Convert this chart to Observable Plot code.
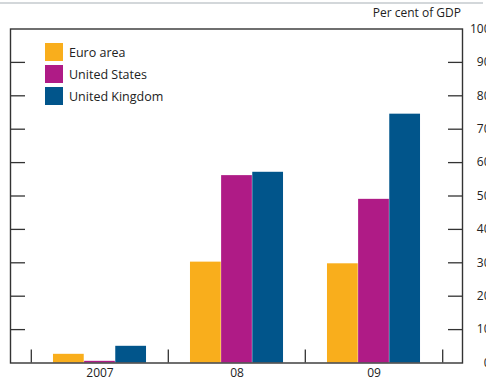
<!DOCTYPE html>
<html>
<head>
<meta charset="utf-8">
<script src="https://cdn.jsdelivr.net/npm/d3@7"></script>
<script src="https://cdn.jsdelivr.net/npm/@observablehq/plot@0.6"></script>
<style>
  html, body { margin: 0; padding: 0; background: #fff; }
  body { width: 486px; height: 379px; overflow: hidden; font-family: "Open Sans", sans-serif; }
  #wrap { position: relative; width: 486px; height: 379px; }
  #topline { position: absolute; left: 0; top: 2px; width: 483px; height: 2px; background: #d3d7da; }
  #title { position: absolute; right: 25px; top: 5px; font-size: 12px; color: #222; line-height: 16px; }
  #legend { position: absolute; left: 45px; top: 41px; font-size: 12.5px; color: #222; }
  .item { display: flex; align-items: center; height: 22px; }
  .sw { width: 18px; height: 18px; margin-right: 6px; }
  #chart { position: absolute; left: 0; top: 22px; }
</style>
</head>
<body>
<div id="wrap">
  <div id="topline"></div>
  <div id="title"></div>
  <div id="chart"></div>
  <div id="legend"></div>
</div>
<script>
const years = ["2007", "08", "09"];
const series = ["Euro area", "United States", "United Kingdom"];
const colors = ["#F9AE1C", "#AF1B86", "#01558B"];
const euroArea = [2.6, 30.2, 29.7];
const unitedStates = [0.5, 56.1, 49.0];
const unitedKingdom = [5.0, 57.1, 74.5];
const yTicks = [10, 20, 30, 40, 50, 60, 70, 80, 90];
const yLabels = [0, 10, 20, 30, 40, 50, 60, 70, 80, 90, 100];
const titleText = "Per cent of GDP";

const values = [euroArea, unitedStates, unitedKingdom];
const data = [];
series.forEach((s, si) => years.forEach((y, yi) => data.push({year: y, series: s, si, value: values[si][yi]})));

const W = 486, H = 357;
const mL = 10, mR = 24, mT = 6.5, mB = 16.5;
const padOuter = 0.145;
const bw = (W - mL - mR) / (years.length + 2 * padOuter);
const groupPad = 0.16, barFrac = (1 - 2 * groupPad) / series.length;

const marks = [];
series.forEach((s, si) => {
  const left = bw * (groupPad + si * barFrac);
  marks.push(Plot.barY(data.filter(d => d.si === si), {
    x: "year", y: "value", fill: colors[si],
    insetLeft: left, insetRight: bw - left - bw * barFrac
  }));
});
// inward y ticks, both sides
marks.push(Plot.tickY(yTicks, {y: d => d, insetLeft: W - mL - mR - 14, stroke: "#333", strokeWidth: 1.3}));
marks.push(Plot.tickY(yTicks, {y: d => d, insetRight: W - mL - mR - 15, stroke: "#333", strokeWidth: 1.3}));
// group boundary ticks at bottom
marks.push(Plot.tickX(years, {x: d => d, dx: -bw / 2, insetTop: H - mT - mB - 13, stroke: "#333", strokeWidth: 1.3}));
marks.push(Plot.tickX(years.slice(-1), {x: d => d, dx: bw / 2, insetTop: H - mT - mB - 13, stroke: "#333", strokeWidth: 1.3}));
marks.push(Plot.frame({stroke: "#333", strokeWidth: 1.4}));
// right y labels
marks.push(Plot.text(yLabels, {y: d => d, frameAnchor: "right", dx: 28, textAnchor: "end", fill: "#222", fontSize: 12}));

const chart = Plot.plot({
  width: W, height: H,
  marginLeft: mL, marginRight: mR, marginTop: mT, marginBottom: mB,
  style: {fontFamily: "Open Sans, sans-serif", overflow: "visible"},
  x: {domain: years, paddingInner: 0, paddingOuter: padOuter, label: null, tickSize: 0, tickPadding: 4, fontSize: 12},
  y: {domain: [0, 100], axis: null},
  marks: [
    ...marks,
    Plot.axisX({tickSize: 0, tickPadding: 5, label: null, fontSize: 12, fill: "#222"})
  ]
});
document.getElementById("chart").appendChild(chart);
document.getElementById("title").textContent = titleText;

const leg = document.getElementById("legend");
series.forEach((s, i) => {
  const it = document.createElement("div");
  it.className = "item";
  const sw = document.createElement("div");
  sw.className = "sw"; sw.style.background = colors[i];
  const t = document.createElement("span");
  t.textContent = s;
  it.appendChild(sw); it.appendChild(t);
  leg.appendChild(it);
});
</script>
</body>
</html>
